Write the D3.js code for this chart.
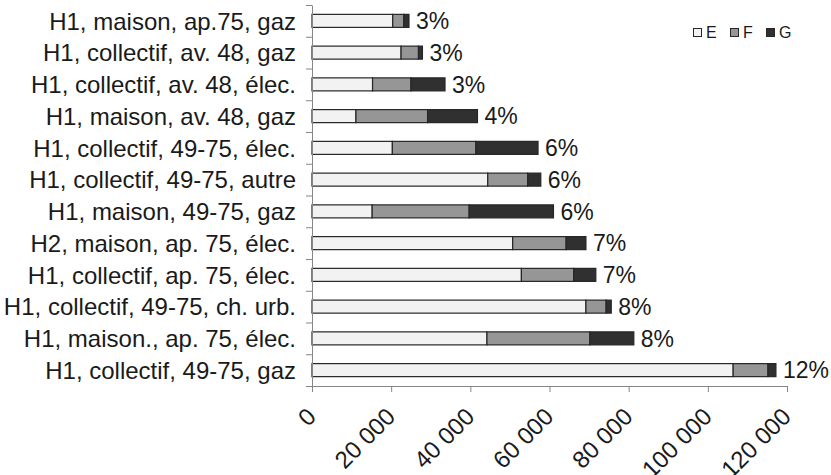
<!DOCTYPE html>
<html>
<head>
<meta charset="utf-8">
<script src="https://cdn.jsdelivr.net/npm/d3@7"></script>
<style>
  body { margin: 0; background: #fff; }
  svg text { font-family: "Liberation Sans", Arial, sans-serif; fill: #1a1a1a; }
  .axis path, .axis line { stroke: #868686; }
</style>
</head>
<body>
<div id="chart"></div>
<script>
// categories, top to bottom
var categories = [
  "H1, maison, ap.75, gaz",
  "H1, collectif, av. 48, gaz",
  "H1, collectif, av. 48, élec.",
  "H1, maison, av. 48, gaz",
  "H1, collectif, 49-75, élec.",
  "H1, collectif, 49-75, autre",
  "H1, maison, 49-75, gaz",
  "H2, maison, ap. 75, élec.",
  "H1, collectif, ap. 75, élec.",
  "H1, collectif, 49-75, ch. urb.",
  "H1, maison., ap. 75, élec.",
  "H1, collectif, 49-75, gaz"
];
var classE = [20400, 22500, 15300, 11100, 20300, 44400, 15200, 50700, 52900, 69200, 44200, 106400];
var classF = [2800, 4400, 9700, 18100, 21100, 10100, 24500, 13500, 13200, 5100, 26000, 8800];
var classG = [1300, 1000, 8600, 12600, 15700, 3300, 21300, 5000, 5600, 1300, 11100, 2000];
var shares = ["3%", "3%", "3%", "4%", "6%", "6%", "6%", "7%", "7%", "8%", "8%", "12%"];
var xTicks = [0, 20000, 40000, 60000, 80000, 100000, 120000];
var seriesNames = ["E", "F", "G"];
var seriesColors = ["#f2f2f2", "#969696", "#303030"];

var W = 831, H = 475;
var plotLeft = 312, plotRight = 787, plotTop = 5, plotBottom = 386;

var svg = d3.select("#chart").append("svg")
  .attr("width", W).attr("height", H);

var x = d3.scaleLinear().domain([0, 120000]).range([plotLeft, plotRight]);
var y = d3.scaleBand().domain(categories).range([plotTop, plotBottom])
  .paddingInner(0.59).paddingOuter(0.295);
var yEdges = d3.scaleLinear().domain([0, categories.length]).range([plotTop, plotBottom]);

var rows = categories.map(function(c, i){
  return {cat: c, E: classE[i], F: classF[i], G: classG[i], pct: shares[i]};
});
var stack = d3.stack().keys(seriesNames)(rows);

// bars
var groups = svg.append("g").selectAll("g").data(stack).enter().append("g")
  .attr("fill", function(d, i){ return seriesColors[i]; });
groups.selectAll("rect").data(function(d){ return d; }).enter().append("rect")
  .attr("x", function(d){ return x(d[0]); })
  .attr("y", function(d){ return y(d.data.cat); })
  .attr("width", function(d){ return x(d[1]) - x(d[0]); })
  .attr("height", y.bandwidth())
  .attr("stroke", "#262626")
  .attr("stroke-width", 1.2);

// percentage labels
svg.append("g").selectAll("text").data(rows).enter().append("text")
  .attr("x", function(d){ return x(d.E + d.F + d.G) + 7; })
  .attr("y", function(d){ return y(d.cat) + y.bandwidth()/2; })
  .attr("dy", "0.36em")
  .style("font-size", "23px")
  .text(function(d){ return d.pct; });

// y axis: tick marks between categories
svg.append("g").attr("class", "axis")
  .attr("transform", "translate(" + plotLeft + ",0)")
  .call(d3.axisLeft(yEdges).tickValues(d3.range(categories.length + 1))
    .tickFormat("").tickSize(6).tickSizeOuter(0));

// y axis labels
var yLab = svg.append("g").attr("class", "axis")
  .attr("transform", "translate(" + plotLeft + ",0)")
  .call(d3.axisLeft(y).tickSize(0).tickPadding(16));
yLab.select(".domain").remove();
yLab.selectAll("text").style("font-size", "24px").attr("dy", "0.36em");

// x axis
var fr = d3.formatLocale({decimal: ",", thousands: " ", grouping: [3], currency: ["", " €"]});
var gx = svg.append("g").attr("class", "axis")
  .attr("transform", "translate(0," + plotBottom + ")")
  .call(d3.axisBottom(x).tickValues(xTicks).tickFormat(fr.format(",d"))
    .tickSize(6).tickSizeOuter(0));
gx.selectAll("text")
  .style("font-size", "24px")
  .style("text-anchor", "end")
  .attr("x", 0).attr("y", 0).attr("dy", 0)
  .attr("transform", "translate(5,32) rotate(-45)");

// legend
var legend = svg.append("g").attr("transform", "translate(693,28)");
var lx = [0, 37, 73];
seriesNames.forEach(function(n, i){
  var g = legend.append("g").attr("transform", "translate(" + lx[i] + ",0)");
  g.append("rect").attr("x", 0.5).attr("y", 0.5).attr("width", 8).attr("height", 8)
    .attr("fill", seriesColors[i]).attr("stroke", "#262626");
  g.append("text").attr("x", 13).attr("y", 10)
    .style("font-size", "16px").text(n);
});
</script>
</body>
</html>
